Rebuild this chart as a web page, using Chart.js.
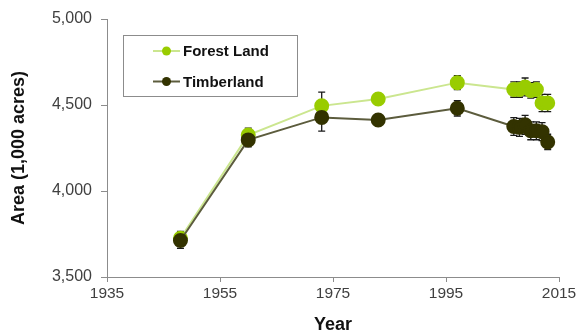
<!DOCTYPE html>
<html>
<head>
<meta charset="utf-8">
<script src="https://cdn.jsdelivr.net/npm/chart.js@4/dist/chart.umd.min.js"></script>
<style>
  html, body { margin: 0; padding: 0; background: #fff; }
  #wrap { width: 579px; height: 336px; }
</style>
</head>
<body>
<div id="wrap"><canvas id="area_plot"></canvas></div>
<script>
'use strict';

const years = [1948, 1960, 1973, 1983, 1997, 2007, 2008, 2009, 2010, 2011, 2012, 2013];
const forestLand = [3725, 4325, 4495, 4535, 4630, 4590, 4590, 4605, 4585, 4590, 4512, 4512];
const forestErr = [40, 40, 80, 12, 40, 45, 45, 52, 45, 45, 50, 50];
const timberland = [3712, 4297, 4428, 4413, 4481, 4375, 4370, 4385, 4350, 4350, 4345, 4285];
const timberErr = [45, 40, 80, 12, 45, 52, 52, 55, 52, 52, 52, 45];
const xTicks = [1935, 1955, 1975, 1995, 2015];
const yTicks = [3500, 4000, 4500, 5000];

const FONT = 'Arial, "Liberation Sans", sans-serif';

function toPoints(ys) {
    return years.map((x, i) => ({x: x, y: ys[i]}));
}

// draws vertical error bars behind the markers
const errorBars = {
    id: 'errorBars',
    beforeDatasetsDraw(chart) {
        const ctx = chart.ctx;
        const yScale = chart.scales.y;
        ctx.save();
        ctx.strokeStyle = '#1a1a1a';
        ctx.lineWidth = 1.3;
        chart.data.datasets.forEach((ds, di) => {
            const meta = chart.getDatasetMeta(di);
            meta.data.forEach((pt, i) => {
                const v = ds.data[i].y;
                const e = ds.errors[i];
                const top = yScale.getPixelForValue(v + e);
                const bot = yScale.getPixelForValue(v - e);
                ctx.beginPath();
                ctx.moveTo(pt.x, top);
                ctx.lineTo(pt.x, bot);
                ctx.moveTo(pt.x - 3.5, top);
                ctx.lineTo(pt.x + 3.5, top);
                ctx.moveTo(pt.x - 3.5, bot);
                ctx.lineTo(pt.x + 3.5, bot);
                ctx.stroke();
            });
        });
        ctx.restore();
    }
};

// boxed legend inside the plot area
const boxLegend = {
    id: 'boxLegend',
    afterDraw(chart) {
        const ctx = chart.ctx;
        const left = 123.5, top = 35.5, w = 174, h = 61;
        ctx.save();
        ctx.fillStyle = '#fff';
        ctx.fillRect(left, top, w, h);
        ctx.strokeStyle = '#8c8c8c';
        ctx.lineWidth = 1;
        ctx.strokeRect(left, top, w, h);
        const rows = [51, 81.5];
        chart.data.datasets.forEach((ds, i) => {
            const y = rows[i];
            ctx.strokeStyle = ds.borderColor;
            ctx.lineWidth = 2;
            ctx.beginPath();
            ctx.moveTo(153, y);
            ctx.lineTo(180, y);
            ctx.stroke();
            ctx.fillStyle = ds.pointBackgroundColor;
            ctx.beginPath();
            ctx.arc(166.5, y, 4.5, 0, Math.PI * 2);
            ctx.fill();
            ctx.fillStyle = '#111';
            ctx.font = 'bold 15px ' + FONT;
            ctx.textBaseline = 'middle';
            ctx.textAlign = 'left';
            ctx.fillText(ds.label, 183, y + 1);
        });
        ctx.restore();
    }
};

const area_plot = new Chart('area_plot', {
    type: 'line',
    data: {
        datasets: [{
            label: 'Forest Land',
            data: toPoints(forestLand),
            errors: forestErr,
            borderColor: '#cbe68f',
            borderWidth: 2,
            pointBackgroundColor: '#99cc00',
            pointBorderColor: '#99cc00',
            pointRadius: 6.5,
            order: 1
        }, {
            label: 'Timberland',
            data: toPoints(timberland),
            errors: timberErr,
            borderColor: '#5c5c3d',
            borderWidth: 2,
            pointBackgroundColor: '#333300',
            pointBorderColor: '#333300',
            pointRadius: 6.5,
            order: 0
        }]
    },
    options: {
        responsive: true,
        maintainAspectRatio: false,
        animation: false,
        layout: {padding: {top: 19, right: 20, left: 0, bottom: 0}},
        plugins: {
            legend: {display: false},
            tooltip: {enabled: false}
        },
        scales: {
            x: {
                type: 'linear',
                min: 1935,
                max: 2015,
                afterBuildTicks: (s) => { s.ticks = xTicks.map(v => ({value: v})); },
                afterFit: (s) => { s.height = 59; },
                grid: {drawOnChartArea: false, tickLength: 5, color: '#8c8c8c'},
                border: {color: '#8c8c8c', width: 1},
                ticks: {
                    color: '#404040',
                    padding: 2,
                    font: {family: FONT, size: 15.5},
                    callback: (v) => String(v)
                },
                title: {
                    display: true,
                    text: 'Year',
                    color: '#111',
                    font: {family: FONT, size: 18, weight: 'bold'},
                    padding: {top: 11, bottom: 0}
                }
            },
            y: {
                min: 3500,
                max: 5000,
                afterBuildTicks: (s) => { s.ticks = yTicks.map(v => ({value: v})); },
                afterFit: (s) => { s.width = 107; },
                grid: {drawOnChartArea: false, tickLength: 6, color: '#8c8c8c'},
                border: {color: '#8c8c8c', width: 1},
                ticks: {
                    color: '#404040',
                    padding: 9,
                    font: {family: FONT, size: 16},
                    callback: (v) => v.toLocaleString('en-US')
                },
                title: {
                    display: true,
                    text: 'Area (1,000 acres)',
                    color: '#111',
                    font: {family: FONT, size: 18, weight: 'bold'},
                    padding: {top: 8, bottom: 0}
                }
            }
        }
    },
    plugins: [errorBars, boxLegend]
});
</script>
</body>
</html>
